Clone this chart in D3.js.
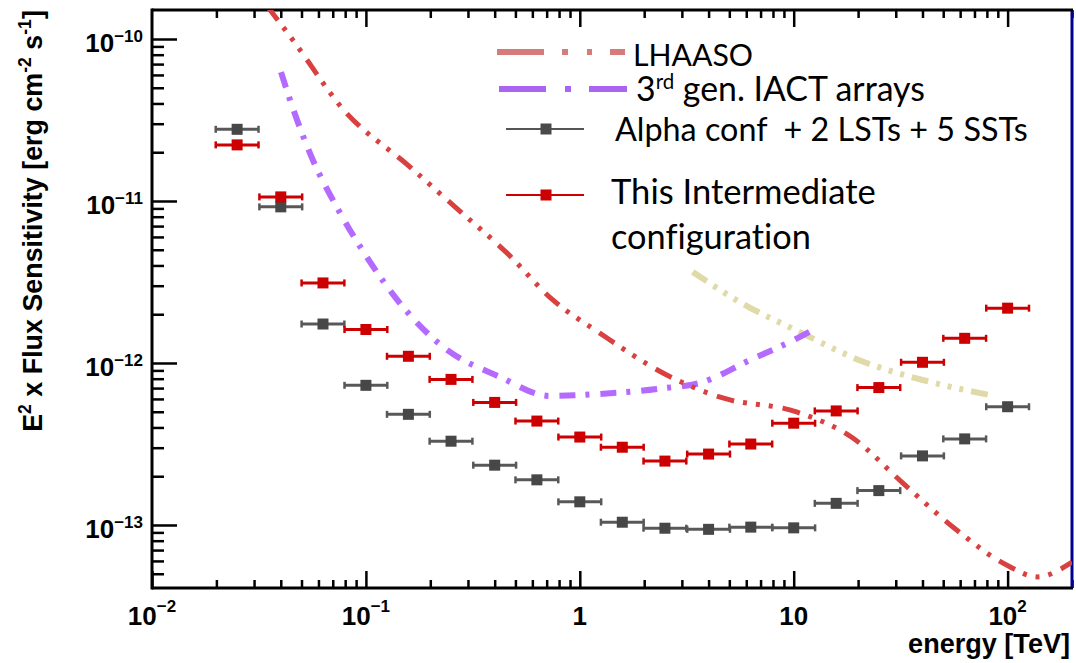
<!DOCTYPE html>
<html>
<head>
<meta charset="utf-8">
<script src="https://cdn.jsdelivr.net/npm/d3@7"></script>
<style>
  html, body { margin: 0; padding: 0; background: #fff; }
  svg { display: block; }
  text { font-variant-ligatures: none; font-feature-settings: "liga" 0, "clig" 0; }
</style>
</head>
<body>
<script>
// ---------------- DATA ----------------
const energies = [0.025, 0.04, 0.063, 0.1, 0.158, 0.25, 0.4, 0.63, 1.0, 1.58, 2.5, 4.0, 6.3, 10, 15.8, 25, 40, 63, 100];
const alphaConf = [2.77e-11, 9.2e-12, 1.74e-12, 7.28e-13, 4.82e-13, 3.29e-13, 2.34e-13, 1.90e-13, 1.39e-13, 1.04e-13,
                   9.55e-14, 9.4e-14, 9.7e-14, 9.6e-14, 1.36e-13, 1.63e-13, 2.67e-13, 3.40e-13, 5.37e-13];
const intermediate = [2.22e-11, 1.06e-11, 3.12e-12, 1.61e-12, 1.10e-12, 7.92e-13, 5.71e-13, 4.38e-13, 3.49e-13, 3.02e-13,
                      2.48e-13, 2.74e-13, 3.16e-13, 4.25e-13, 5.06e-13, 7.05e-13, 1.01e-12, 1.42e-12, 2.18e-12];
const binHalfWidthDex = 0.1;

const lhaasoE = [0.0345, 0.0466, 0.0773, 0.161, 0.261, 0.456, 0.748, 1.24, 2.55, 4.66, 10.3, 18.9, 32.3, 57.8, 98.9, 138, 200];
const lhaasoF = [1.6e-10, 9.45e-11, 3.75e-11, 1.62e-11, 9.19e-12, 4.78e-12, 2.45e-12, 1.53e-12, 8.43e-13, 6.08e-13, 4.99e-13,
                 3.44e-13, 1.82e-13, 9.3e-14, 5.66e-14, 4.78e-14, 5.9e-14];

const iactE = [0.0401, 0.0442, 0.0565, 0.0731, 0.101, 0.149, 0.229, 0.423, 0.724, 1.24, 2.55, 3.64, 6.22, 10.7, 12.3];
const iactF = [6.25e-11, 4.2e-11, 1.79e-11, 9.18e-12, 4.51e-12, 2.22e-12, 1.26e-12, 8.2e-13, 6.26e-13, 6.44e-13, 7.02e-13,
               7.53e-13, 1.04e-12, 1.45e-12, 1.6e-12];

const otherE = [3.37, 5.59, 10.7, 20.3, 40.1, 82.4];
const otherF = [3.65e-12, 2.38e-12, 1.55e-12, 1.04e-12, 7.85e-13, 6.34e-13];

const xTickValues = [0.01, 0.1, 1, 10, 100];
const xTickLabels = [["10", "\u22122"], ["10", "\u22121"], ["1", ""], ["10", ""], ["10", "2"]];
const yTickValues = [1e-10, 1e-11, 1e-12, 1e-13];
const yTickLabels = [["10", "\u221210"], ["10", "\u221211"], ["10", "\u221212"], ["10", "\u221213"]];

const legendLabels = ["LHAASO", "3rd gen. IACT arrays", "Alpha conf  + 2 LSTs + 5 SSTs", "This Intermediate", "configuration"];
const xTitle = "energy [TeV]";

// ---------------- LAYOUT ----------------
const W = 1076, H = 663;
const L = 152, R = 1072, T = 10, B = 588;
const svg = d3.select("body").append("svg").attr("width", W).attr("height", H);

const x = d3.scaleLog().domain([0.01, 200]).range([L, R]);
const y = d3.scaleLog().domain([Math.pow(10, -13.389), Math.pow(10, -9.821)]).range([B, T]);

const isMajor = v => Math.abs(Math.log10(v) - Math.round(Math.log10(v))) < 1e-6;
const xMinor = x.ticks().filter(v => !isMajor(v) && v >= 0.01 && v <= 200);
const yMinor = y.ticks().filter(v => !isMajor(v));

const axisFont = "'Liberation Sans', Arial, Helvetica, sans-serif";

svg.append("defs").append("clipPath").attr("id", "clip")
  .append("rect").attr("x", L).attr("y", T).attr("width", R - L).attr("height", B - T);

// ---------- axes ----------
function styleAxis(g, w) {
  g.select(".domain").remove();
  g.selectAll(".tick line").attr("stroke", "#000").attr("stroke-width", w);
}
svg.append("g").attr("transform", `translate(0,${B})`)
  .call(d3.axisBottom(x).tickValues(xTickValues).tickSize(-17).tickFormat(""))
  .call(g => styleAxis(g, 2.5));
svg.append("g").attr("transform", `translate(0,${B})`)
  .call(d3.axisBottom(x).tickValues(xMinor).tickSize(-8).tickFormat(""))
  .call(g => styleAxis(g, 2.5));
svg.append("g").attr("transform", `translate(0,${T})`)
  .call(d3.axisTop(x).tickValues(xTickValues.filter(v => v > 0.01)).tickSize(-17).tickFormat(""))
  .call(g => styleAxis(g, 2.5));
svg.append("g").attr("transform", `translate(0,${T})`)
  .call(d3.axisTop(x).tickValues(xMinor).tickSize(-8).tickFormat(""))
  .call(g => styleAxis(g, 2.5));
svg.append("g").attr("transform", `translate(${L},0)`)
  .call(d3.axisLeft(y).tickValues(yTickValues).tickSize(-25).tickFormat(""))
  .call(g => styleAxis(g, 2.5));
svg.append("g").attr("transform", `translate(${L},0)`)
  .call(d3.axisLeft(y).tickValues(yMinor).tickSize(-12).tickFormat(""))
  .call(g => styleAxis(g, 2.5));

svg.append("line").attr("x1", L).attr("x2", R + 1).attr("y1", T).attr("y2", T).attr("stroke", "#000").attr("stroke-width", 3);
svg.append("line").attr("x1", L).attr("x2", R + 1).attr("y1", B).attr("y2", B).attr("stroke", "#000").attr("stroke-width", 3);
svg.append("line").attr("x1", L).attr("x2", L).attr("y1", T - 1.5).attr("y2", B + 1.5).attr("stroke", "#000").attr("stroke-width", 3);
svg.append("line").attr("x1", R).attr("x2", R).attr("y1", T + 1).attr("y2", B - 1).attr("stroke", "#00008f").attr("stroke-width", 3);

xTickValues.forEach((v, i) => {
  const t = svg.append("text").attr("x", x(v)).attr("y", 625).attr("text-anchor", "middle")
    .attr("font-family", axisFont).attr("font-weight", "bold").attr("font-size", 26).attr("fill", "#000");
  t.append("tspan").text(xTickLabels[i][0]);
  if (xTickLabels[i][1]) t.append("tspan").attr("dy", -13).attr("font-size", 17).text(xTickLabels[i][1]);
});
yTickValues.forEach((v, i) => {
  const t = svg.append("text").attr("x", 143).attr("y", y(v) + 13).attr("text-anchor", "end")
    .attr("font-family", axisFont).attr("font-weight", "bold").attr("font-size", 26).attr("fill", "#000");
  t.append("tspan").text(yTickLabels[i][0]);
  t.append("tspan").attr("dy", -10).attr("font-size", 17).text(yTickLabels[i][1]);
});

// fit a text (with its tspans) to a target width by scaling font sizes and shifts
function fit(sel, target) {
  const s = target / sel.node().getComputedTextLength();
  sel.attr("font-size", +sel.attr("font-size") * s);
  sel.selectAll("tspan").each(function () {
    const ts = d3.select(this);
    if (ts.attr("font-size")) ts.attr("font-size", +ts.attr("font-size") * s);
    if (ts.attr("dy")) ts.attr("dy", +ts.attr("dy") * s);
  });
}
const xt = svg.append("text").attr("x", 1070).attr("y", 653).attr("text-anchor", "end")
  .attr("font-family", axisFont).attr("font-weight", "bold").attr("font-size", 26).text(xTitle);
fit(xt, 162);

const yt = svg.append("text").attr("transform", `translate(42,221) rotate(-90)`).attr("text-anchor", "middle")
  .attr("font-family", axisFont).attr("font-weight", "bold").attr("font-size", 26);
yt.append("tspan").text("E");
yt.append("tspan").attr("dy", -11).attr("font-size", 17).text("2");
yt.append("tspan").attr("dy", 11).text(" x Flux Sensitivity [erg cm");
yt.append("tspan").attr("dy", -11).attr("font-size", 17).text("-2");
yt.append("tspan").attr("dy", 11).text(" s");
yt.append("tspan").attr("dy", -11).attr("font-size", 17).text("-1");
yt.append("tspan").attr("dy", 11).text("]");
fit(yt, 422);

// ---------- curves ----------
const plot = svg.append("g").attr("clip-path", "url(#clip)");
const lineGen = d3.line().x(d => x(d[0])).y(d => y(d[1])).curve(d3.curveMonotoneX);

plot.append("path").datum(otherE.map((e, i) => [e, otherF[i]]))
  .attr("d", lineGen).attr("fill", "none").attr("stroke", "#dfdaa8").attr("stroke-width", 6)
  .attr("stroke-dasharray", "17,8,4,8,4,8,4,8");
plot.append("path").datum(iactE.map((e, i) => [e, iactF[i]]))
  .attr("d", lineGen).attr("fill", "none").attr("stroke", "#b469ff").attr("stroke-width", 6)
  .attr("stroke-dasharray", "16,10,4,11");
plot.append("path").datum(lhaasoE.map((e, i) => [e, lhaasoF[i]]))
  .attr("d", lineGen).attr("fill", "none").attr("stroke", "#d94141").attr("stroke-width", 5)
  .attr("stroke-dasharray", "18,9,4,9,4,9,4,10");

// ---------- data points ----------
function drawSeries(vals, barColor, markColor) {
  const g = plot.append("g");
  const f = Math.pow(10, binHalfWidthDex);
  energies.forEach((e, i) => {
    const yy = y(vals[i]);
    const x0 = x(e / f), x1 = x(e * f), xc = x(e);
    g.append("line").attr("x1", x0).attr("x2", x1).attr("y1", yy).attr("y2", yy)
      .attr("stroke", barColor).attr("stroke-width", 3);
    [x0, x1].forEach(xx => g.append("line").attr("x1", xx).attr("x2", xx).attr("y1", yy - 3.5).attr("y2", yy + 3.5)
      .attr("stroke", barColor).attr("stroke-width", 2.5));
    g.append("rect").attr("x", xc - 5.5).attr("y", yy - 5.5).attr("width", 11).attr("height", 11).attr("fill", markColor);
  });
}
drawSeries(alphaConf, "#585858", "#474747");
drawSeries(intermediate, "#cc0000", "#cc0000");

// ---------- legend ----------
const legFont = "Lato, 'Open Sans', sans-serif";
const lg = svg.append("g");
lg.append("line").attr("x1", 497).attr("x2", 625).attr("y1", 52).attr("y2", 52)
  .attr("stroke", "#d67a7a").attr("stroke-width", 6).attr("stroke-dasharray", "47,18,6,19,5,18");
lg.append("line").attr("x1", 499).attr("x2", 627).attr("y1", 89).attr("y2", 89)
  .attr("stroke", "#a964f0").attr("stroke-width", 6).attr("stroke-dasharray", "47,19,6,18");
[["#4a4a4a", "#555", 129], ["#cc0000", "#cc0000", 195]].forEach(([mc, lc, yy]) => {
  lg.append("line").attr("x1", 506).attr("x2", 584).attr("y1", yy).attr("y2", yy).attr("stroke", lc).attr("stroke-width", 2);
  lg.append("rect").attr("x", 546 - 5.5).attr("y", yy - 5.5).attr("width", 11).attr("height", 11).attr("fill", mc);
});

function legText(xp, yp, str, target) {
  const t = lg.append("text").attr("x", xp).attr("y", yp).attr("font-family", legFont).attr("font-size", 28)
    .attr("fill", "#000").style("white-space", "pre").text(str);
  fit(t, target);
  return t;
}
legText(633, 66, legendLabels[0], 120);
{
  const t = lg.append("text").attr("x", 636).attr("y", 101).attr("font-family", legFont).attr("font-size", 28).attr("fill", "#000");
  t.append("tspan").text("3");
  t.append("tspan").attr("dy", -10).attr("font-size", 17).text("rd");
  t.append("tspan").attr("dy", 10).text(" gen. IACT arrays");
  fit(t, 289);
}
legText(615, 141, legendLabels[2], 413);
legText(611, 204, legendLabels[3], 265);
legText(611, 249, legendLabels[4], 200);
</script>
</body>
</html>
